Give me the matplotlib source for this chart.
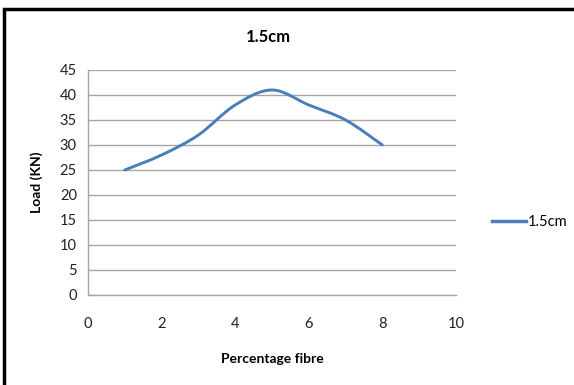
import numpy as np
import matplotlib.pyplot as plt
from matplotlib.path import Path
from matplotlib.patches import PathPatch, Rectangle
from matplotlib.lines import Line2D

# data
fibre_pct = [1, 2, 3, 4, 5, 6, 7, 8]
load_kn = [25, 28, 32, 38, 41, 38, 35, 30]
series_name = "1.5cm"
x_ticks = [0, 2, 4, 6, 8, 10]
y_ticks = [0, 5, 10, 15, 20, 25, 30, 35, 40, 45]

LINE_COLOR = '#4a7ebb'
GRID_COLOR = '#a6a6a6'
FONT = 'Lato'


def smooth_path(xs, ys, tension=1/6):
    """Excel-like smoothed line: cubic Bezier through every point"""
    pts = np.column_stack([xs, ys]).astype(float)
    verts = [pts[0]]
    codes = [Path.MOVETO]
    n = len(pts)
    for i in range(n - 1):
        p0 = pts[i - 1] if i > 0 else pts[i]
        p1 = pts[i]
        p2 = pts[i + 1]
        p3 = pts[i + 2] if i + 2 < n else pts[i + 1]
        c1 = p1 + (p2 - p0) * tension
        c2 = p2 - (p3 - p1) * tension
        verts += [c1, c2, p2]
        codes += [Path.CURVE4] * 3
    return Path(verts, codes)


fig = plt.figure(figsize=(5.74, 3.85), dpi=100)
ax = fig.add_axes([0.1533, 0.2338, 0.6411, 0.5844])

patch = PathPatch(smooth_path(fibre_pct, load_kn), facecolor='none',
                  edgecolor=LINE_COLOR, linewidth=2.1, capstyle='round')
ax.add_patch(patch)

ax.set_xlim(0, 10)
ax.set_ylim(0, 45)
ax.set_xticks(x_ticks)
ax.set_yticks(y_ticks)
ax.tick_params(length=0, labelsize=10.5, colors='#222222', pad=8)
ax.tick_params(axis='x', pad=16)
for lab in ax.get_xticklabels() + ax.get_yticklabels():
    lab.set_family(FONT)

ax.grid(axis='y', color=GRID_COLOR, linewidth=1)
ax.set_axisbelow(True)
for side in ['top', 'right']:
    ax.spines[side].set_visible(False)
for side in ['left', 'bottom']:
    ax.spines[side].set_color(GRID_COLOR)
    ax.spines[side].set_linewidth(1)

ax.set_xlabel('Percentage fibre', fontsize=10, fontweight='bold', labelpad=16, family=FONT)
ax.set_ylabel('Load (KN)', fontsize=10, fontweight='bold', labelpad=12, family=FONT)
fig.text(0.467, 0.905, series_name, ha='center', va='center',
         fontsize=12, fontweight='bold', family=FONT)

# legend on the right
leg_handle = Line2D([], [], color=LINE_COLOR, linewidth=2.5)
fig.legend([leg_handle], [series_name], loc='center left',
           bbox_to_anchor=(0.835, 0.423), frameon=False, handlelength=2.3,
           handletextpad=0.1, prop={'family': FONT, 'size': 10.5})

# chart frame
fig.patches.append(Rectangle((0.007, -0.1), 1.2, 1.077, transform=fig.transFigure,
                             facecolor='none', edgecolor='black', linewidth=2.5))

plt.savefig('out.png', dpi=100)
